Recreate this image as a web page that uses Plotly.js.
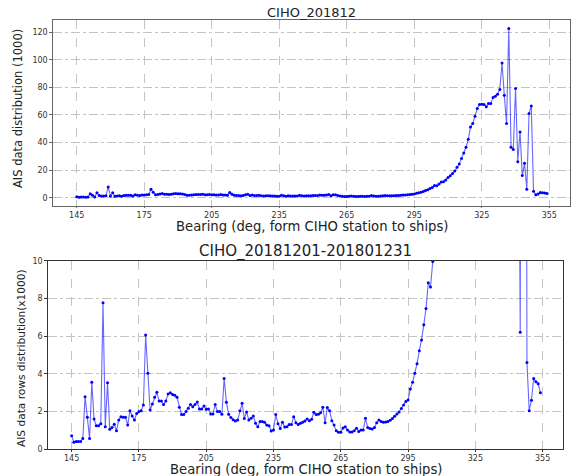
<!DOCTYPE html>
<html>
<head>
<meta charset="utf-8">
<script src="https://cdn.plot.ly/plotly-3.0.1.min.js"></script>
<style>
  html, body { margin: 0; padding: 0; background: #fff; }
  #chart { width: 572px; height: 476px; }
</style>
</head>
<body>
<div id="chart"></div>
<script>
// Bearing (deg) of each bin
const bearings = [
  145,146,147,148,149,150,151,152,153,154,155,156,157,158,159,160,161,162,163,164,
  165,166,167,168,169,170,171,172,173,174,175,176,177,178,179,180,181,182,183,184,
  185,186,187,188,189,190,191,192,193,194,195,196,197,198,199,200,201,202,203,204,
  205,206,207,208,209,210,211,212,213,214,215,216,217,218,219,220,221,222,223,224,
  225,226,227,228,229,230,231,232,233,234,235,236,237,238,239,240,241,242,243,244,
  245,246,247,248,249,250,251,252,253,254,255,256,257,258,259,260,261,262,263,264,
  265,266,267,268,269,270,271,272,273,274,275,276,277,278,279,280,281,282,283,284,
  285,286,287,288,289,290,291,292,293,294,295,296,297,298,299,300,301,302,303,304,
  305,306,307,308,309,310,311,312,313,314,315,316,317,318,319,320,321,322,323,324,
  325,326,327,328,329,330,331,332,333,334,335,336,337,338,339,340,341,342,343,344,
  345,346,347,348,349,350,351,352,353,354
];
// AIS data rows per bearing (x1000)
const aisCounts = [
  0.72,0.37,0.42,0.42,0.41,0.57,2.79,1.70,0.57,3.55,1.60,1.25,1.25,1.36,7.77,1.20,3.53,1.06,1.15,1.33,
  0.99,1.55,1.73,1.70,1.70,1.29,2.05,1.77,1.55,1.90,2.00,2.05,2.35,6.06,4.03,2.08,2.40,2.76,3.02,2.56,
  2.56,2.37,2.56,2.93,3.00,2.90,2.86,2.76,2.23,1.84,1.84,2.01,2.17,2.37,2.26,2.37,2.51,2.14,2.14,2.30,
  2.12,2.14,1.87,1.87,2.37,2.00,2.00,1.86,3.76,2.49,1.86,1.68,1.57,1.50,1.55,2.05,2.44,1.63,1.98,1.55,
  1.64,1.77,1.38,1.20,1.47,1.47,1.43,1.29,1.25,0.97,1.02,1.84,1.36,1.10,1.44,1.18,1.20,1.32,1.31,1.73,
  1.41,1.31,1.38,1.43,1.50,1.60,1.52,1.59,1.96,1.84,1.86,1.94,2.23,1.41,2.21,2.05,1.52,1.29,0.99,0.90,
  0.90,1.13,1.20,1.02,0.92,0.92,0.99,1.11,0.95,1.02,1.02,1.64,1.15,1.10,1.08,1.15,1.41,1.55,1.48,1.43,
  1.45,1.48,1.54,1.63,1.75,1.87,1.98,2.16,2.35,2.54,2.61,3.20,3.55,4.03,4.54,5.23,5.80,6.60,7.46,8.83,
  8.60,9.96,11.3,11.6,12.9,14.6,15.9,17.6,19.3,22.0,24.4,28.5,32.4,36.6,42.4,51.2,53.7,59.0,64.6,67.6,
  67.8,67.6,65.9,68.3,68.3,72.7,73.5,75.0,78.4,97.7,74.3,53.7,122.7,36.5,35.0,79.2,26.0,47.7,16.0,25.0,
  6.2,61.0,66.5,4.6,2.05,2.6,3.76,3.58,3.48,3.0
];
const xTicks = [145,175,205,235,265,295,325,355];
const yTicksTop = [0,20,40,60,80,100,120];
const yTicksBottom = [0,2,4,6,8,10];

const titleTop = "CIHO_201812";
const titleBottom = "CIHO_20181201-201801231";
const xTitle = "Bearing (deg, form CIHO station to ships)";
const yTitleTop = "AIS data distribution (1000)";
const yTitleBottom = "AIS data rows distribution(x1000)";

const W = 572, H = 476;
const px = v => v / W;
const py = v => 1 - v / H;

const lineStyle = {color: 'rgba(0,0,255,0.6)', width: 1.1};
const markerStyle = {color: '#0000ff', size: 3};

const traces = [
  {x: bearings, y: aisCounts, type: 'scatter', mode: 'lines+markers',
   line: lineStyle, marker: markerStyle, xaxis: 'x', yaxis: 'y', cliponaxis: true},
  {x: bearings, y: aisCounts, type: 'scatter', mode: 'lines+markers',
   line: lineStyle, marker: markerStyle, xaxis: 'x2', yaxis: 'y2', cliponaxis: true}
];

const tickFont = {family: 'DejaVu Sans', size: 8, color: '#333'};
function xAx(domain, anchor, frame, tl) {
  return {
    domain: domain, anchor: anchor, range: [134.6, 364.2],
    tickmode: 'array', tickvals: xTicks, ticktext: xTicks.map(String),
    showgrid: true, gridcolor: '#c4c4c4', griddash: 'dash', gridwidth: 1,
    zeroline: false, showline: true, mirror: true, linecolor: frame, linewidth: 1,
    ticks: 'outside', ticklen: tl, tickcolor: frame, tickfont: tickFont
  };
}
function yAx(domain, anchor, range, ticks, frame) {
  return {
    domain: domain, anchor: anchor, range: range,
    tickmode: 'array', tickvals: ticks, ticktext: ticks.map(String),
    showgrid: true, gridcolor: '#c4c4c4', griddash: 'dashdot', gridwidth: 1,
    zeroline: false, showline: true, mirror: true, linecolor: frame, linewidth: 1,
    ticks: 'outside', ticklen: 3, tickcolor: frame, tickfont: tickFont
  };
}

const layout = {
  width: W, height: H,
  margin: {l: 0, r: 0, t: 0, b: 0},
  paper_bgcolor: '#fff', plot_bgcolor: '#fff',
  showlegend: false,
  xaxis: xAx([px(53.3), px(570)], 'y', '#666', 1.5),
  yaxis: yAx([py(205.7), py(20)], 'x', [-5.8, 128.8], yTicksTop, '#666'),
  xaxis2: xAx([px(48.3), px(563.3)], 'y2', '#333', 1.5),
  yaxis2: yAx([py(449.3), py(260.7)], 'x2', [0, 10], yTicksBottom, '#333'),
  annotations: [
    {text: titleTop, xref: 'paper', yref: 'paper', x: px(311.7), y: py(12),
     xanchor: 'center', yanchor: 'middle', showarrow: false,
     font: {family: 'DejaVu Sans', size: 13, color: '#222'}},
    {text: titleBottom, xref: 'paper', yref: 'paper', x: px(305.8), y: py(251),
     xanchor: 'center', yanchor: 'middle', showarrow: false,
     font: {family: 'DejaVu Sans', size: 15, color: '#222'}},
    {text: xTitle, xref: 'paper', yref: 'paper', x: px(311.7), y: py(226.5),
     xanchor: 'center', yanchor: 'middle', showarrow: false,
     font: {family: 'DejaVu Sans', size: 13.2, color: '#222'}},
    {text: xTitle, xref: 'paper', yref: 'paper', x: px(305.5), y: py(469.5),
     xanchor: 'center', yanchor: 'middle', showarrow: false,
     font: {family: 'DejaVu Sans', size: 13.2, color: '#222'}},
    {text: yTitleTop, xref: 'paper', yref: 'paper', x: px(18), y: py(109),
     xanchor: 'center', yanchor: 'middle', showarrow: false, textangle: -90,
     font: {family: 'DejaVu Sans', size: 11.5, color: '#222'}},
    {text: yTitleBottom, xref: 'paper', yref: 'paper', x: px(21), y: py(358),
     xanchor: 'center', yanchor: 'middle', showarrow: false, textangle: -90,
     font: {family: 'DejaVu Sans', size: 10.6, color: '#222'}}
  ]
};

Plotly.newPlot('chart', traces, layout, {displayModeBar: false, staticPlot: true});
</script>
</body>
</html>
